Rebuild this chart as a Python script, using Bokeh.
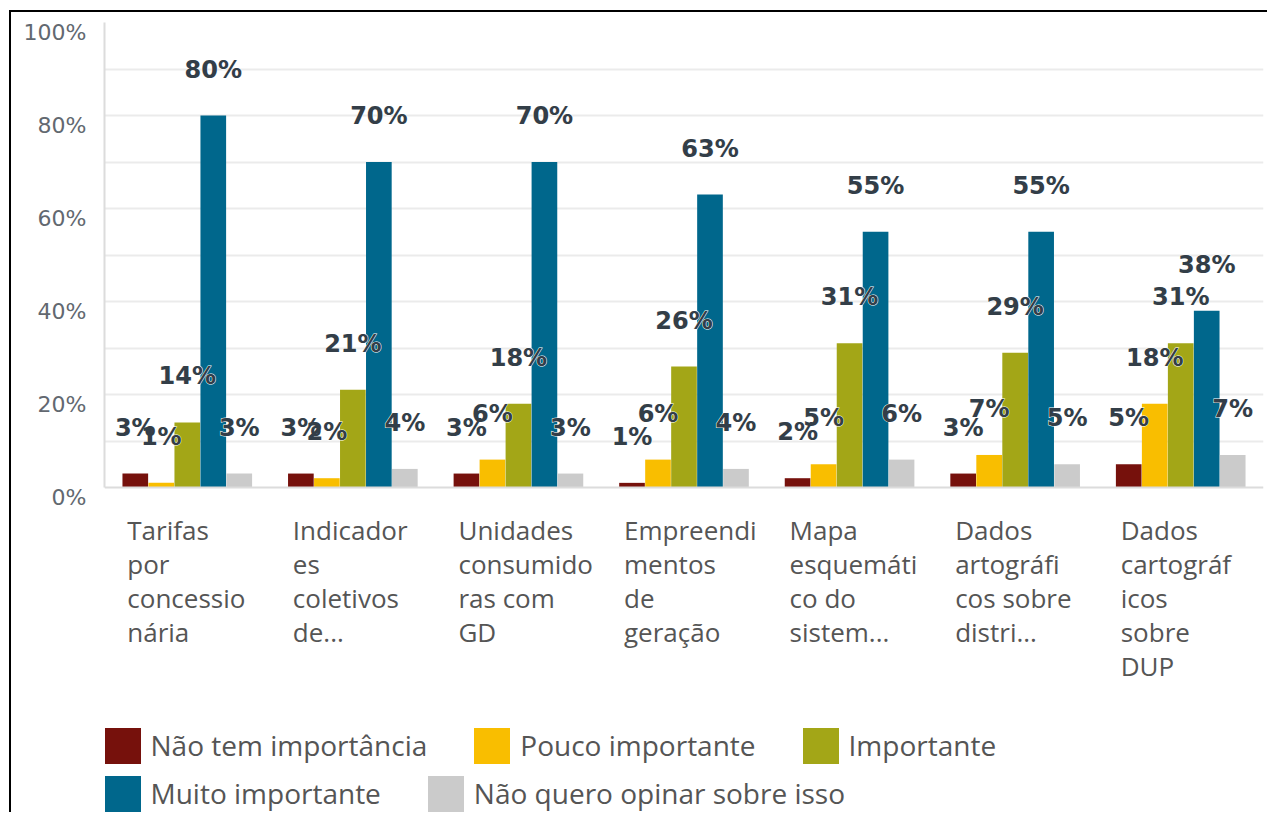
from bokeh.plotting import figure
from bokeh.models import (ColumnDataSource, FactorRange, FixedTicker, Legend, LegendItem,
                          LabelSet, Span, Range1d, LinearAxis, CustomJSTickFormatter)
from bokeh.transform import dodge
from bokeh.core.properties import value
from bokeh.embed import file_html
from bokeh.resources import INLINE

# ---- data ----
categories = ["Tarifas", "Indicadores", "Unidades", "Empreendimentos", "Mapa",
              "Dados artográficos", "Dados cartográficos"]
category_labels = [
    "Tarifas\npor\nconcessio\nnária",
    "Indicador\nes\ncoletivos\nde...",
    "Unidades\nconsumido\nras com\nGD",
    "Empreendi\nmentos\nde\ngeração",
    "Mapa\nesquemáti\nco do\nsistem...",
    "Dados\nartográfi\ncos sobre\ndistri...",
    "Dados\ncartográf\nicos\nsobre\nDUP",
]
series_names = ["Não tem importância", "Pouco importante", "Importante",
                "Muito importante", "Não quero opinar sobre isso"]
nao_tem = [3, 3, 3, 1, 2, 3, 5]
pouco = [1, 2, 6, 6, 5, 7, 18]
importante = [14, 21, 18, 26, 31, 29, 31]
muito = [80, 70, 70, 63, 55, 55, 38]
nao_quero = [3, 4, 3, 4, 6, 5, 7]
y_ticks = [0, 20, 40, 60, 80, 100]
grid_ticks = [10, 20, 30, 40, 50, 60, 70, 80, 90]

series = [nao_tem, pouco, importante, muito, nao_quero]
colors = ["#76110c", "#f9be00", "#a3a617", "#00678c", "#cbcbcb"]
offsets = [-0.314, -0.157, 0.0, 0.157, 0.314]

src = {"cat": categories, "catlab": category_labels}
for i, s in enumerate(series):
    src[f"s{i}"] = s
    src[f"l{i}"] = [f"{v}%" for v in s]
source = ColumnDataSource(src)

Y0, Y1 = -70.32, 100
LABEL_SHIFT = 2.1  # tick labels sit slightly below their gridline

# frame extends to the bottom of the canvas so that labels/legend below the bars are not clipped
p = figure(width=1258, height=802, x_range=FactorRange(*categories, range_padding=0),
           y_range=Range1d(Y0, Y1), x_axis_location=None,
           output_backend="svg", toolbar_location=None,
           min_border_left=93, min_border_right=6, min_border_top=10, min_border_bottom=0)
p.outline_line_color = None
p.styles = {"border-top": "2px solid #000", "border-left": "2px solid #000",
            "margin-top": "10px", "margin-left": "9px"}

renderers = []
for i in range(5):
    r = p.vbar(x=dodge("cat", offsets[i], range=p.x_range), top=f"s{i}", width=0.155,
               source=source, fill_color=colors[i], line_color=None)
    renderers.append(r)

label_style = dict(text_align="center", text_baseline="middle", y_offset=-46,
                   text_font=value("DejaVu Sans"), text_font_style="bold",
                   text_font_size="24px", text_color="#333e48")
for i in range(5):
    p.text(x=dodge("cat", offsets[i], range=p.x_range), y=f"s{i}", text=f"l{i}", source=source,
           text_outline_color="white", **label_style)
for i in range(5):
    p.text(x=dodge("cat", offsets[i], range=p.x_range), y=f"s{i}", text=f"l{i}", source=source,
           **label_style)

# y axis: line only
p.yaxis.bounds = (0, 100)
p.yaxis.ticker = FixedTicker(ticks=y_ticks)
p.yaxis.formatter = CustomJSTickFormatter(code="return '';")
p.yaxis.major_label_text_font_size = "0px"
p.yaxis.major_label_standoff = 0
p.yaxis.major_tick_line_color = None
p.yaxis.minor_tick_line_color = None
p.yaxis.major_tick_out = 0
p.yaxis.major_tick_in = 0
p.yaxis.axis_line_color = "#dcdcdc"
p.yaxis.axis_line_width = 2

# y tick labels (slightly lowered)
p.extra_y_ranges = {"lab": Range1d(Y0 + LABEL_SHIFT, Y1 + LABEL_SHIFT)}
lab_axis = LinearAxis(y_range_name="lab", ticker=FixedTicker(ticks=y_ticks),
                      formatter=CustomJSTickFormatter(code="return tick + '%';"),
                      axis_line_color=None, major_tick_line_color=None,
                      minor_tick_line_color=None, major_tick_out=0, major_tick_in=0,
                      major_label_standoff=18, major_label_text_font="DejaVu Sans",
                      major_label_text_font_size="22px", major_label_text_color="#626870")
p.add_layout(lab_axis, "left")

p.xgrid.grid_line_color = None
p.ygrid.ticker = FixedTicker(ticks=grid_ticks)
p.ygrid.grid_line_color = "#ebebeb"
p.ygrid.grid_line_width = 2

# baseline (0%)
p.add_layout(Span(location=0, dimension="width", line_color="#dcdcdc", line_width=2))

# category labels below the bars
cat_labels = LabelSet(x="cat", y=-5.3, text="catlab", source=source, x_offset=-60,
                      text_align="left", text_baseline="top", text_font=value("Open Sans"),
                      text_font_size=value("26px"), text_color="#555555", text_line_height=0.94)
p.add_layout(cat_labels)

# legends (two rows)
common = dict(orientation="horizontal", glyph_width=45, glyph_height=45, label_standoff=6,
              spacing=42, padding=0, margin=0, border_line_color=None,
              background_fill_alpha=0, label_text_font="Open Sans",
              label_text_font_size="28px", label_text_color="#555555")
leg1 = Legend(items=[LegendItem(label=series_names[i], renderers=[renderers[i]]) for i in range(3)],
              location=(-4.5, 46.5), **common)
leg2 = Legend(items=[LegendItem(label=series_names[i], renderers=[renderers[i]]) for i in range(3, 5)],
              location=(-4.5, -1.5), **common)
p.add_layout(leg1)
p.add_layout(leg2)

open("out.html", "w").write(file_html(p, INLINE))
